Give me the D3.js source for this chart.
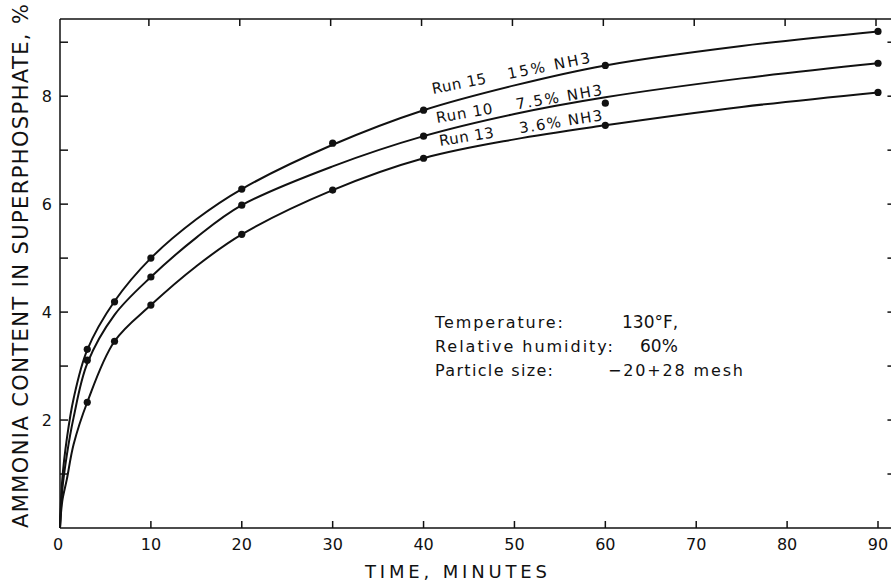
<!DOCTYPE html>
<html>
<head>
<meta charset="utf-8">
<script src="https://cdnjs.cloudflare.com/ajax/libs/d3/7.8.5/d3.min.js"></script>
<style>
  body { margin: 0; background: #fff; }
  svg { display: block; }
  text { font-family: "DejaVu Sans", sans-serif; fill: #111; }
</style>
</head>
<body>
<svg class="chart" width="891" height="581"></svg>
<script>
// Measured points for each run (time in minutes, ammonia %)
var runNames = ["Run 15", "Run 10", "Run 13"];
var nh3Names = ["15% NH3", "7.5% NH3", "3.6% NH3"];

var pointTimes15 = [3, 6, 10, 20, 30, 40, 60, 90];
var pointValues15 = [3.31, 4.19, 5.0, 6.28, 7.13, 7.74, 8.57, 9.2];

var pointTimes10 = [3, 10, 20, 40, 60, 90];
var pointValues10 = [3.11, 4.65, 5.98, 7.26, 7.87, 8.61];

var pointTimes13 = [3, 6, 10, 20, 30, 40, 60, 90];
var pointValues13 = [2.33, 3.46, 4.13, 5.44, 6.26, 6.85, 7.46, 8.07];

// Smoothed curves as drawn on the plot
var curveTimes = [0, 0.25, 0.75, 1.5, 3, 6, 10, 15, 20, 30, 40, 50, 60, 75, 90];
var curveValues15 = [0, 0.9, 1.65, 2.4, 3.3, 4.2, 5.0, 5.72, 6.28, 7.1, 7.74, 8.2, 8.57, 8.93, 9.2];
var curveValues10 = [0, 0.7, 1.35, 2.05, 3.05, 3.95, 4.65, 5.38, 5.98, 6.7, 7.26, 7.67, 7.98, 8.33, 8.61];
var curveValues13 = [0, 0.5, 0.9, 1.55, 2.33, 3.46, 4.13, 4.85, 5.44, 6.26, 6.85, 7.2, 7.46, 7.8, 8.07];

var xTickValues = [0, 10, 20, 30, 40, 50, 60, 70, 80, 90];
var yTickLabels = [2, 4, 6, 8];
var yMinorTicks = [1, 2, 3, 4, 5, 6, 7, 8, 9];

var conditionNames = ["Temperature:", "Relative humidity:", "Particle size:"];
var conditionValues = ["130\u00b0F,", "60%", "\u221220+28 mesh"];

/**** Layout ****/
const width = 891;
const height = 581;

var svg = d3.select(".chart");

var xScale = d3.scaleLinear()
    .domain([0, 90])
    .range([60, 878]);

var yScale = d3.scaleLinear()
    .domain([0, 9.43])
    .range([528, 19]);

var xRight = xScale(91.7); // right frame sits just past the picture edge

/**** Frame ****/
var frame = svg.append("g")
    .attr("stroke", "#111")
    .attr("stroke-width", 1.5)
    .attr("fill", "none");

frame.append("line")
    .attr("x1", xScale(0)).attr("x2", xRight)
    .attr("y1", yScale(0)).attr("y2", yScale(0));
frame.append("line")
    .attr("x1", xScale(0)).attr("x2", xRight)
    .attr("y1", yScale(9.43)).attr("y2", yScale(9.43));
frame.append("line")
    .attr("x1", xScale(0)).attr("x2", xScale(0))
    .attr("y1", yScale(0)).attr("y2", yScale(9.43));
frame.append("line")
    .attr("x1", xRight).attr("x2", xRight)
    .attr("y1", yScale(0)).attr("y2", yScale(9.43));

// ticks pointing inward on all four sides
var xInner = xTickValues.filter(function(d) { return d > 0; });

frame.selectAll(".xtickB")
    .data(xInner)
    .enter().append("line")
    .attr("x1", function(d) { return xScale(d); })
    .attr("x2", function(d) { return xScale(d); })
    .attr("y1", yScale(0))
    .attr("y2", yScale(0) - 7);

frame.selectAll(".xtickT")
    .data(xInner)
    .enter().append("line")
    .attr("x1", function(d) { return xScale(d) - 2; })
    .attr("x2", function(d) { return xScale(d) - 2; })
    .attr("y1", yScale(9.43))
    .attr("y2", yScale(9.43) + 7);

frame.selectAll(".ytickL")
    .data(yMinorTicks)
    .enter().append("line")
    .attr("x1", xScale(0))
    .attr("x2", xScale(0) + 8)
    .attr("y1", function(d) { return yScale(d); })
    .attr("y2", function(d) { return yScale(d); });

frame.selectAll(".ytickR")
    .data(yMinorTicks)
    .enter().append("line")
    .attr("x1", xRight)
    .attr("x2", xRight - 6)
    .attr("y1", function(d) { return yScale(d); })
    .attr("y2", function(d) { return yScale(d); });

/**** Tick labels ****/
svg.selectAll(".xlabel")
    .data(xTickValues)
    .enter().append("text")
    .attr("class", "xlabel")
    .attr("x", function(d) { return xScale(d) - (d === 0 ? 2 : 0); })
    .attr("y", 550)
    .attr("text-anchor", "middle")
    .style("font-size", "16px")
    .text(function(d) { return d; });

svg.selectAll(".ylabel")
    .data(yTickLabels)
    .enter().append("text")
    .attr("class", "ylabel")
    .attr("x", xScale(0) - 8)
    .attr("y", function(d) { return yScale(d) + 6; })
    .attr("text-anchor", "end")
    .style("font-size", "16px")
    .text(function(d) { return d; });

/**** Axis titles ****/
svg.append("text")
    .attr("x", 456)
    .attr("y", 578)
    .attr("text-anchor", "middle")
    .attr("textLength", 182)
    .attr("lengthAdjust", "spacing")
    .style("font-size", "18px")
    .text("TIME, MINUTES");

svg.append("text")
    .attr("transform", "translate(28,266) rotate(-90)")
    .attr("text-anchor", "middle")
    .attr("textLength", 524)
    .attr("lengthAdjust", "spacing")
    .style("font-size", "21px")
    .text("AMMONIA CONTENT IN SUPERPHOSPHATE, %");

/**** Curves and points ****/
var line = d3.line()
    .x(function(d) { return xScale(d[0]); })
    .y(function(d) { return yScale(d[1]); })
    .curve(d3.curveCatmullRom.alpha(0.5));

var curves = [curveValues15, curveValues10, curveValues13];
var points = [
    [pointTimes15, pointValues15],
    [pointTimes10, pointValues10],
    [pointTimes13, pointValues13]
];

curves.forEach(function(vals) {
    svg.append("path")
        .datum(d3.zip(curveTimes, vals))
        .attr("d", line)
        .attr("fill", "none")
        .attr("stroke", "#111")
        .attr("stroke-width", 2);
});

points.forEach(function(p) {
    svg.selectAll(null)
        .data(d3.zip(p[0], p[1]))
        .enter().append("circle")
        .attr("cx", function(d) { return xScale(d[0]); })
        .attr("cy", function(d) { return yScale(d[1]); })
        .attr("r", 3.6)
        .attr("fill", "#111");
});

/**** Curve labels, rotated along the lines ****/
var labelPos = [
    { x: 433, y: 94, angle: -11.2, gap: 77, w1: 55, w2: 84 },
    { x: 437, y: 123, angle: -9.6, gap: 81, w1: 57, w2: 87 },
    { x: 440, y: 146, angle: -9.0, gap: 81, w1: 55, w2: 84 }
];

runNames.forEach(function(name, i) {
    var p = labelPos[i];
    var g = svg.append("g")
        .attr("transform", "translate(" + p.x + "," + p.y + ") rotate(" + p.angle + ")");
    g.append("text")
        .attr("x", 0).attr("y", 0)
        .attr("textLength", p.w1)
        .attr("lengthAdjust", "spacing")
        .style("font-size", "15px")
        .text(name);
    g.append("text")
        .attr("x", p.gap).attr("y", 0)
        .attr("textLength", p.w2)
        .attr("lengthAdjust", "spacing")
        .style("font-size", "15px")
        .text(nh3Names[i]);
});

/**** Test conditions ****/
var condValueX = [622, 640, 608];
var condNameW = [128, 178, 118];

conditionNames.forEach(function(name, i) {
    var y = 328 + i * 24;
    svg.append("text")
        .attr("x", 435).attr("y", y)
        .attr("textLength", condNameW[i])
        .attr("lengthAdjust", "spacing")
        .style("font-size", "16px")
        .text(name);
    var v = svg.append("text")
        .attr("x", condValueX[i]).attr("y", y)
        .style("font-size", i < 2 ? "17px" : "16px")
        .text(conditionValues[i]);
    // only the long mesh value is stretched to its drawn width
    if (i === 2) {
        v.attr("textLength", 135).attr("lengthAdjust", "spacing");
    }
});
</script>
</body>
</html>
